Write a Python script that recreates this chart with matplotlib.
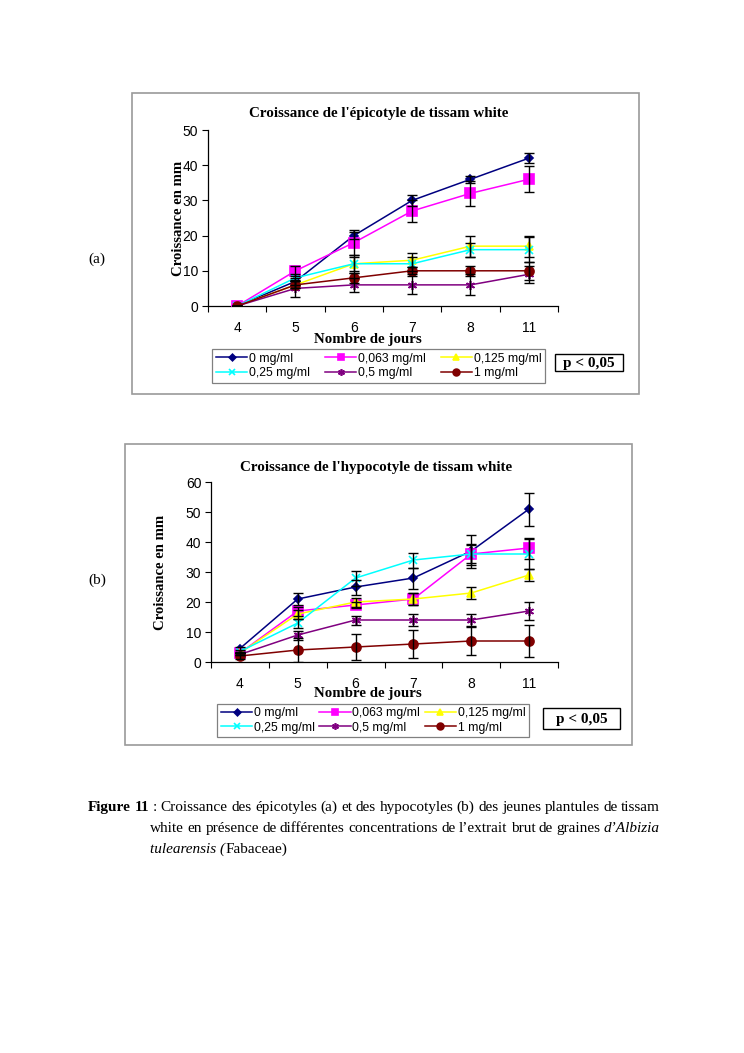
import matplotlib
matplotlib.use('Agg')
import matplotlib.pyplot as plt
from matplotlib.patches import Rectangle

W, H = 744, 1053

days = ['4', '5', '6', '7', '8', '11']
labels = ['0 mg/ml', '0,063 mg/ml', '0,125 mg/ml', '0,25 mg/ml', '0,5 mg/ml', '1 mg/ml']
colors = ['#000080', '#FF00FF', '#FFFF00', '#00FFFF', '#800080', '#800000']
markers = ['D', 's', '^', 'x', (6, 2, 0), 'o']
msizes = [4.5, 6.5, 6, 6, 6.5, 6.5]

# (a) epicotyle
epi_mean = [
    [0, 7, 20, 30, 36, 42],
    [0, 10, 18, 27, 32, 36],
    [0, 6, 12, 13, 17, 17],
    [0, 8, 12, 12, 16, 16],
    [0, 5, 6, 6, 6, 9],
    [0, 6, 8, 10, 10, 10],
]
epi_err = [
    [0, 1, 1, 1.5, 1, 1.5],
    [0, 1.5, 3.5, 3, 3.5, 3.7],
    [0, 1, 2.5, 2, 3, 3],
    [0, 1, 2, 2, 2, 3.5],
    [0, 2.5, 2, 2.5, 3, 2.5],
    [0, 1, 1.5, 1, 1.5, 2.5],
]

# (b) hypocotyle
hypo_mean = [
    [4.5, 21, 25, 28, 37, 51],
    [3, 17, 19, 21, 36, 38],
    [3, 16, 20, 21, 23, 29],
    [3.5, 13, 28, 34, 36, 36],
    [2.5, 9, 14, 14, 14, 17],
    [2, 4, 5, 6, 7, 7],
]
hypo_err = [
    [0.5, 2, 2.5, 3.5, 5.5, 5.5],
    [0, 1.5, 1, 2, 3, 3.5],
    [0, 1.5, 1.5, 2, 2, 2],
    [0, 1.5, 2.5, 2.5, 3.5, 5],
    [0, 1.5, 1.5, 2, 2, 3],
    [1, 4, 4.3, 4.6, 4.8, 5.2],
]

SERIF = 'Liberation Serif'
SANS = 'Liberation Sans'


def rect(left, top, right, bottom):
    return [left / W, 1 - bottom / H, (right - left) / W, (bottom - top) / H]


def fx(x):
    return x / W


def fy(y):
    return 1 - y / H


fig = plt.figure(figsize=(W / 100, H / 100), dpi=100)


def draw_chart(ax_box, frame, means, errs, ymax, title, title_xy, ylab_x,
               xlab_y, leg_box, p_box):
    # outer frame
    fig.patches.append(Rectangle((fx(frame[0]), fy(frame[3])),
                                 (frame[2] - frame[0]) / W, (frame[3] - frame[1]) / H,
                                 transform=fig.transFigure, fill=False,
                                 edgecolor='#9a9a9a', lw=1.2))
    ax = fig.add_axes(rect(*ax_box))
    x = list(range(len(days)))
    handles = []
    for m, e, c, mk, ms, lab in zip(means, errs, colors, markers, msizes, labels):
        ln, = ax.plot(x, m, color=c, marker=mk, ms=ms, lw=1.1, mec=c, mfc=c,
                      mew=1.2, label=lab, zorder=3)
        ax.errorbar(x, m, yerr=e, fmt='none', ecolor='black', elinewidth=1,
                    capsize=3.5, capthick=1, zorder=4)
        handles.append(ln)
    ax.set_xlim(-0.5, len(days) - 0.5)
    ax.set_ylim(0, ymax)
    ax.set_yticks(range(0, ymax + 1, 10))
    ax.set_xticks([i - 0.5 for i in range(len(days) + 1)])
    ax.set_xticklabels([])
    ax.set_xticks(x, minor=True)
    ax.set_xticklabels(days, minor=True)
    ax.tick_params(axis='x', which='major', length=4, direction='out', width=0.8)
    ax.tick_params(axis='x', which='minor', length=0, pad=11, labelsize=10)
    ax.tick_params(axis='y', length=4, direction='out', width=0.8, pad=3, labelsize=10)
    for lbl in ax.get_xticklabels(minor=True) + ax.get_yticklabels():
        lbl.set_fontfamily(SANS)
    ax.spines['top'].set_visible(False)
    ax.spines['right'].set_visible(False)
    ax.spines['left'].set_linewidth(0.9)
    ax.spines['bottom'].set_linewidth(0.9)
    ax.patch.set_alpha(0)

    fig.text(fx(title_xy[0]), fy(title_xy[1]), title, ha='center', va='center',
             family=SERIF, weight='bold', fontsize=10.8)
    fig.text(fx(ylab_x), fy((ax_box[1] + ax_box[3]) / 2), 'Croissance en mm',
             rotation=90, ha='center', va='center', family=SERIF,
             weight='bold', fontsize=10.6)
    fig.text(fx(368), fy(xlab_y), 'Nombre de jours', ha='center', va='center',
             family=SERIF, weight='bold', fontsize=10.7)

    order = [0, 3, 1, 4, 2, 5]
    leg = fig.legend([handles[i] for i in order], [labels[i] for i in order],
                     ncol=3, mode='expand', loc='center',
                     bbox_to_anchor=(fx(leg_box[0]), fy(leg_box[3]),
                                     (leg_box[2] - leg_box[0]) / W,
                                     (leg_box[3] - leg_box[1]) / H),
                     prop={'family': SANS, 'size': 8.8}, frameon=True,
                     fancybox=False, edgecolor='#808080', framealpha=1,
                     handlelength=2.6, handletextpad=0.1, labelspacing=0.2,
                     borderpad=0.3, borderaxespad=0, columnspacing=0.5)
    leg.get_frame().set_linewidth(0.9)
    for h in leg.legend_handles:
        h.set_markersize(h.get_markersize() * 0.75)

    fig.patches.append(Rectangle((fx(p_box[0]), fy(p_box[3])),
                                 (p_box[2] - p_box[0]) / W, (p_box[3] - p_box[1]) / H,
                                 transform=fig.transFigure, fill=False,
                                 edgecolor='black', lw=1))
    fig.text(fx((p_box[0] + p_box[2]) / 2), fy((p_box[1] + p_box[3]) / 2 + 1),
             'p < 0,05', ha='center', va='center', family=SERIF,
             weight='bold', fontsize=11)
    return ax


draw_chart((208, 130, 558, 306), (132, 93, 639, 394), epi_mean, epi_err, 50,
           "Croissance de l'épicotyle de tissam white", (379, 114), 178, 339,
           (212, 349, 545, 383), (555, 354, 623, 371))
draw_chart((211, 482, 558, 662), (125, 444, 632, 745), hypo_mean, hypo_err, 60,
           "Croissance de l'hypocotyle de tissam white", (376, 468), 160, 693,
           (217, 703, 529, 738), (543, 708, 620, 729))

fig.text(fx(97), fy(259), '(a)', ha='center', va='center', family=SERIF, fontsize=11)
fig.text(fx(97), fy(580), '(b)', ha='center', va='center', family=SERIF, fontsize=11)

# caption, justified like the document
renderer = fig.canvas.get_renderer()
CAP = 11


def put_line(tokens, x0, x1, y, justify=True):
    texts = []
    widths = []
    for word, weight, style in tokens:
        t = fig.text(0, fy(y), word, family=SERIF, weight=weight, style=style,
                     fontsize=CAP, va='baseline', ha='left')
        widths.append(t.get_window_extent(renderer).width)
        texts.append(t)
    if justify and len(tokens) > 1:
        gap = (x1 - x0 - sum(widths)) / (len(tokens) - 1)
    else:
        gap = 0
    x = x0
    for t, w in zip(texts, widths):
        t.set_x(fx(x))
        x += w + gap


line1 = [('Figure', 'bold', 'normal'), ('11', 'bold', 'normal')] + \
    [(w, 'normal', 'normal') for w in
     ': Croissance des épicotyles (a) et des hypocotyles (b) des jeunes plantules de tissam'.split()]
line2 = [(w, 'normal', 'normal') for w in
         'white en présence de différentes concentrations de l’extrait brut de graines'.split()] + \
    [('d’Albizia', 'normal', 'italic')]
line3 = [('tulearensis (', 'normal', 'italic'), ('Fabaceae)', 'normal', 'normal')]

put_line(line1, 88, 660, 811)
put_line(line2, 150, 660, 832)
put_line(line3, 150, 660, 853, justify=False)

fig.savefig('out.png', dpi=100)
